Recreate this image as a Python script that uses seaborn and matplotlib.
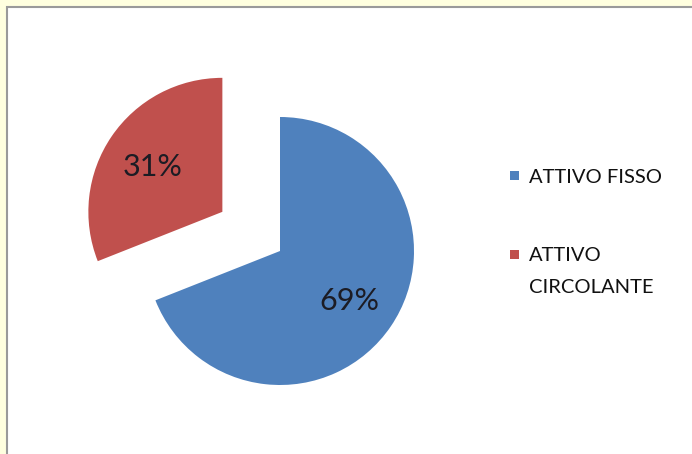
import matplotlib
matplotlib.use("Agg")
import matplotlib.pyplot as plt
import seaborn as sns
from matplotlib.patches import Rectangle

categories = ["ATTIVO FISSO", "ATTIVO\nCIRCOLANTE"]
shares = [69, 31]
explode = [0.0, 0.52]
colors = ["#4F81BD", "#C0504D"]

sns.set_theme(style="white")
plt.rcParams["font.family"] = ["Lato", "DejaVu Sans"]

W, H = 692, 454
fig = plt.figure(figsize=(W / 100, H / 100), dpi=100, facecolor="#FFFFDF")

# white chart area with grey frame, running off the right/bottom edges
fig.patches.append(Rectangle((7 / W, -0.1), 1.2, 1 - 7 / H + 0.1, transform=fig.transFigure,
                             facecolor="white", edgecolor="#9A9A9A", linewidth=1.5, zorder=-5))

# pie centre at (280, 251) px, radius 134 px
r = 134
half = 200
ax = fig.add_axes([(280 - half) / W, (H - 251 - half) / H, 2 * half / W, 2 * half / H])
ax.set_facecolor("none")
wedges, texts, autotexts = ax.pie(
    shares, explode=explode, colors=colors, startangle=90, counterclock=False,
    autopct="%1.0f%%", pctdistance=0.63, radius=1.0,
    textprops={"fontsize": 22, "color": "#1C1C24"},
    wedgeprops={"linewidth": 0},
)
for t in autotexts:
    t.set_va("center_baseline")
ax.set_xlim(-half / r, half / r)
ax.set_ylim(-half / r, half / r)
ax.set_aspect("equal")
ax.axis("off")

# legend, laid out by hand to keep the wide line spacing of the original
legend_y = [176, 254]
for label, col, y in zip(categories, colors, legend_y):
    fig.patches.append(Rectangle((510 / W, 1 - (y + 4.5) / H), 9 / W, 9 / H,
                                 transform=fig.transFigure, facecolor=col, edgecolor="none"))
    fig.text(529 / W, 1 - (y - 7) / H, label, ha="left", va="top", fontsize=14.5,
             color="#111111", linespacing=2.1)

fig.savefig("out.png", dpi=100, facecolor=fig.get_facecolor())
